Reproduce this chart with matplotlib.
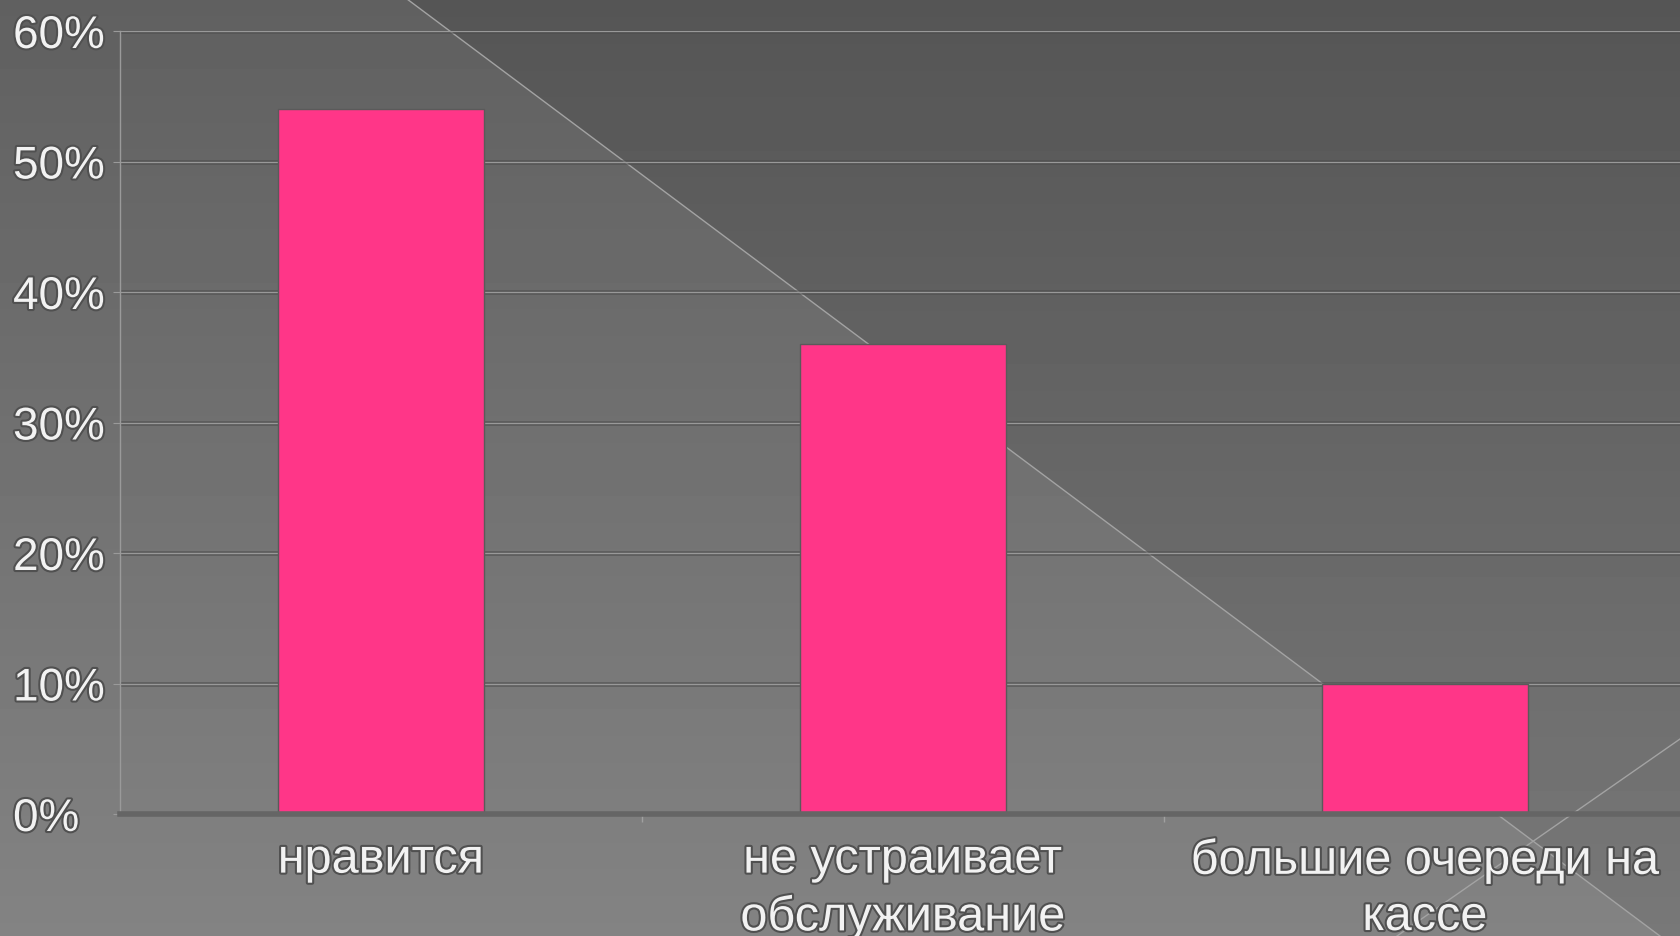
import numpy as np
import matplotlib
matplotlib.use('Agg')
import matplotlib.pyplot as plt
import matplotlib.patheffects as pe
from matplotlib.ticker import FixedLocator, PercentFormatter

# chart data
categories = ['нравится', 'не устраивает\nобслуживание', 'большие очереди на\nкассе']
shares = [0.54, 0.36, 0.10]
y_ticks = [0.0, 0.1, 0.2, 0.3, 0.4, 0.5, 0.6]

plt.rcParams['font.family'] = ['Liberation Sans', 'DejaVu Sans']

W, H = 1680, 937
fig = plt.figure(figsize=(W / 100, H / 100), dpi=100)

# slide background: vertical grey gradient, darker wedge in the upper right
bg = fig.add_axes([0, 0, 1, 1])
bg.axis('off')
yy, xx = np.mgrid[0:H, 0:W]
shade = 96 + 35 * yy / H
shade[yy < 0.748 * (xx - 407)] -= 11
bg.imshow(shade, cmap='gray', vmin=0, vmax=255, extent=[0, W, H, 0], aspect='auto')
bg.plot([407, 1680], [0, 952], color='#a3a3a3', lw=1)
bg.plot([1397, 1680], [937, 740], color='#a3a3a3', lw=1)
bg.set_xlim(0, W)
bg.set_ylim(H, 0)

# chart area
ax = fig.add_axes([120 / W, (H - 815) / H, 1566 / W, 783 / H])
ax.patch.set_alpha(0)

stroke = [pe.withStroke(linewidth=3, foreground='#505050')]

for v in y_ticks[1:]:
    ax.axhline(v, color='#4c4c4c', lw=3.5, alpha=0.55, zorder=1)
    ax.axhline(v, color='#999999', lw=0.9, zorder=1.5)

x = np.arange(len(categories))
ax.bar(x, shares, width=0.395, color='#FF3688', edgecolor='#5a5a5a', lw=1, zorder=3)

ax.set_xlim(-0.5, 2.5)
ax.set_ylim(0, 0.6)

for s in ['top', 'right']:
    ax.spines[s].set_visible(False)
ax.spines['left'].set_color('#9a9a9a')
ax.spines['left'].set_linewidth(1)
ax.spines['bottom'].set_color('#656565')
ax.spines['bottom'].set_linewidth(4)
ax.spines['bottom'].set_zorder(4)

# y labels are left-aligned near the slide edge
ax.set_yticks(y_ticks)
ax.yaxis.set_major_formatter(PercentFormatter(1.0, decimals=0))
ax.tick_params(axis='y', length=5, color='#9a9a9a', pad=72, labelsize=33, labelcolor='#f2f2f2')
for lbl in ax.get_yticklabels():
    lbl.set_horizontalalignment('left')

ax.set_xticks(x)
ax.set_xticklabels(categories)
ax.xaxis.set_minor_locator(FixedLocator([0.5, 1.5]))
ax.tick_params(axis='x', which='major', length=0, pad=17, labelsize=35, labelcolor='#f2f2f2')
ax.tick_params(axis='x', which='minor', length=6, color='#a0a0a0', width=1)

for lbl in ax.get_xticklabels() + ax.get_yticklabels():
    lbl.set_path_effects(stroke)
for lbl in ax.get_xticklabels():
    lbl.set_linespacing(1.32)

fig.savefig('out.png', dpi=100)
